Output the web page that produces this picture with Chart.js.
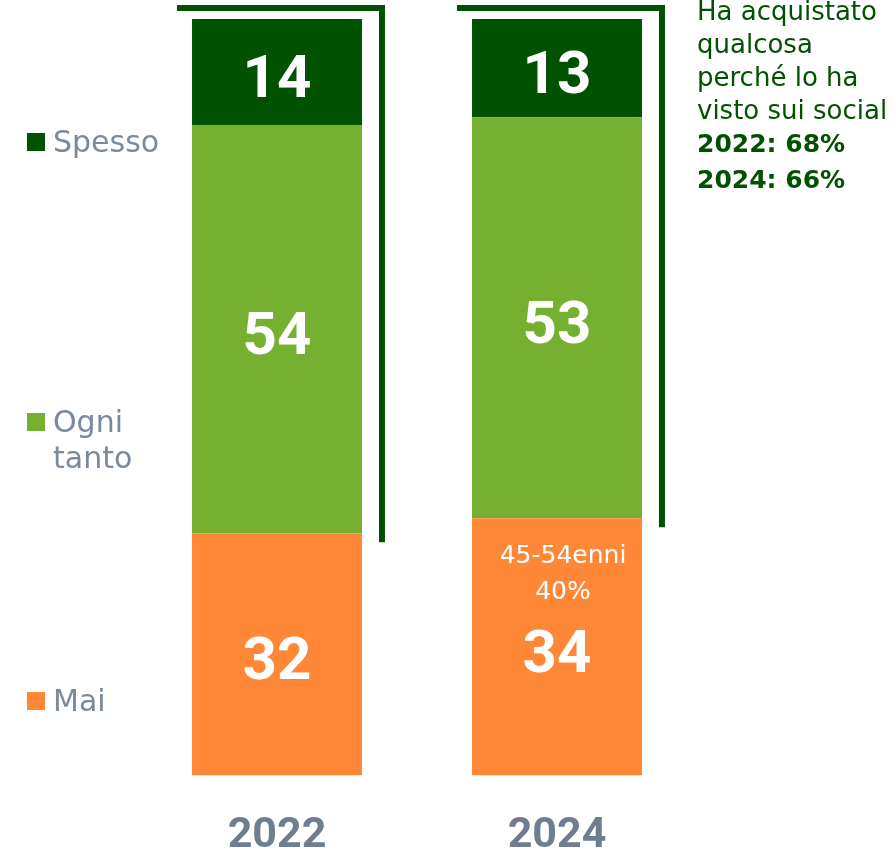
<!DOCTYPE html>
<html>
<head>
<meta charset="utf-8">
<script src="https://cdn.jsdelivr.net/npm/chart.js@4.4.1/dist/chart.umd.min.js"></script>
<style>
  html, body { margin: 0; padding: 0; background: #fff; }
  #wrap { width: 894px; height: 860px; position: relative; }
</style>
</head>
<body>
<div id="wrap"><canvas id="chart"></canvas></div>
<script>
// dati
const years = ['2022', '2024'];
const spesso = [14, 13];
const ogniTanto = [54, 53];
const mai = [32, 34];
const legendLabels = [['Spesso'], ['Ogni', 'tanto'], ['Mai']];
const noteLines = ['Ha acquistato', 'qualcosa', 'perché lo ha', 'visto sui social'];
const totals = ['2022: 68%', '2024: 66%'];
const maiNote = ['45-54enni', '40%'];

const DARK = '#005200';
const LIGHT = '#76b030';
const ORANGE = '#ff8838';
const GREY = '#7b8a9b';

// 🔹 etichette, legenda a sinistra, parentesi e nota a destra
const decorPlugin = {
  id: 'decor',
  afterDatasetsDraw(chart) {
    const ctx = chart.ctx;
    const y = chart.scales.y;
    ctx.save();

    // valori dentro le barre
    ctx.fillStyle = '#fff';
    ctx.textAlign = 'center';
    ctx.textBaseline = 'middle';
    ctx.font = 'bold 60px Roboto';
    chart.data.datasets.forEach((ds, di) => {
      chart.getDatasetMeta(di).data.forEach((bar, i) => {
        ctx.fillText(String(ds.data[i]), bar.x, (bar.y + bar.base) / 2 + 10);
      });
    });

    // nota dentro "Mai" 2024
    const maiBar = chart.getDatasetMeta(0).data[1];
    ctx.font = '25px "DejaVu Sans"';
    ctx.fillText(maiNote[0], maiBar.x + 6, maiBar.y + 38);
    ctx.fillText(maiNote[1], maiBar.x + 6, maiBar.y + 74);

    // parentesi verdi
    ctx.strokeStyle = DARK;
    ctx.lineWidth = 6;
    chart.getDatasetMeta(2).data.forEach((bar, i) => {
      const left = bar.x - bar.width / 2 - 15;
      const right = bar.x + bar.width / 2 + 20;
      const top = y.getPixelForValue(100) - 11;
      const bottom = y.getPixelForValue(mai[i]) + 9;
      ctx.beginPath();
      ctx.moveTo(left, top);
      ctx.lineTo(right, top);
      ctx.lineTo(right, bottom);
      ctx.stroke();
    });

    // legenda a sinistra
    const legendColors = [DARK, LIGHT, ORANGE];
    const legendBase = [152, 432, 711];
    ctx.textAlign = 'left';
    ctx.textBaseline = 'alphabetic';
    ctx.font = '30px "DejaVu Sans"';
    legendLabels.forEach((lines, k) => {
      ctx.fillStyle = legendColors[k];
      ctx.fillRect(27, legendBase[k] - 19, 18, 18);
      ctx.fillStyle = GREY;
      lines.forEach((t, j) => ctx.fillText(t, 53, legendBase[k] + j * 36));
    });

    // nota a destra
    ctx.fillStyle = DARK;
    ctx.font = '26px "DejaVu Sans"';
    noteLines.forEach((t, j) => ctx.fillText(t, 697, 20 + j * 33));
    ctx.font = 'bold 25px "DejaVu Sans"';
    totals.forEach((t, j) => ctx.fillText(t, 697, 152 + j * 36));

    ctx.restore();
  }
};

new Chart(document.getElementById('chart'), {
  type: 'bar',
  data: {
    labels: years,
    datasets: [
      { label: 'Mai', data: mai, backgroundColor: ORANGE },
      { label: 'Ogni tanto', data: ogniTanto, backgroundColor: LIGHT },
      { label: 'Spesso', data: spesso, backgroundColor: DARK }
    ]
  },
  options: {
    responsive: true,
    maintainAspectRatio: false,
    animation: false,
    layout: { padding: { left: 137, right: 197, top: 19, bottom: -37 } },
    datasets: { bar: { categoryPercentage: 1, barPercentage: 0.607, borderWidth: 0 } },
    plugins: { legend: { display: false }, tooltip: { enabled: false } },
    scales: {
      x: {
        stacked: true,
        grid: { display: false, drawTicks: false },
        border: { display: false },
        ticks: { color: '#6f7e8e', padding: 35, font: { family: 'Roboto', weight: 'bold', size: 43 } }
      },
      y: { stacked: true, display: false, min: 0, max: 100 }
    }
  },
  plugins: [decorPlugin]
});
</script>
</body>
</html>
